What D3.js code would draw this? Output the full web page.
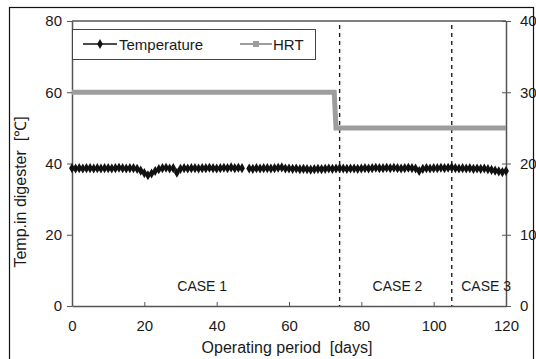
<!DOCTYPE html>
<html>
<head>
<meta charset="utf-8">
<script src="https://cdn.jsdelivr.net/npm/d3@7"></script>
<style>
  body { margin: 0; background: #fff; }
  svg text { font-family: Arial, "Liberation Sans", sans-serif; fill: #1a1a1a; white-space: pre; }
</style>
</head>
<body>
<div id="chart"></div>
<script>
// Temperature in digester, one value per day (0..120), null = no measurement
const tempDays = d3.range(0, 121);
const tempValues = [
  38.7, 38.6, 38.7, 38.6, 38.7, 38.7, 38.6, 38.7, 38.6, 38.7,
  38.7, 38.6, 38.7, 38.8, 38.7, 38.6, 38.7, 38.7, 38.5, 38.0,
  37.3, 36.7, 37.2, 37.9, 38.4, 38.7, 38.8, 38.6, 38.7, 37.4,
  38.5, 38.7, 38.6, 38.7, 38.7, 38.6, 38.7, 38.7, 38.8, 38.7,
  38.6, 38.7, 38.8, 38.7, 38.9, 38.7, 38.8, 38.7, null, 38.6,
  38.5, 38.7, 38.6, 38.7, 38.7, 38.6, 38.7, 38.8, 38.9, 38.6,
  38.6, 38.5, 38.6, 38.4, 38.5, 38.4, 38.3, 38.4, 38.5, 38.4,
  38.5, 38.6, 38.5, 38.6, 38.7, 38.6, 38.5, 38.6, 38.6, 38.5,
  38.6, 38.7, 38.6, 38.7, 38.8, 38.7, 38.7, 38.8, 38.7, 38.8,
  38.7, 38.6, 38.7, 38.8, 38.7, 38.6, 37.9, 38.5, 38.7, 38.6,
  38.7, 38.7, 38.8, 38.7, 38.8, 38.9, 38.7, 38.6, 38.7, 38.6,
  38.7, 38.5, 38.6, 38.5, 38.6, 38.4, 38.2, 38.0, 37.8, 37.6,
  37.9
];

// HRT [days], right axis
const hrtDays = [0, 72.5, 73, 120];
const hrtValues = [30, 30, 25, 25];

// case boundaries and labels
const caseBounds = [74, 105];
const caseLabels = [
  { name: "CASE 1", day: 36 },
  { name: "CASE 2", day: 90 },
  { name: "CASE 3", day: 114.5 }
];

const xTicks = [0, 20, 40, 60, 80, 100, 120];
const yLeftTicks = [0, 20, 40, 60, 80];
const yRightTicks = [0, 10, 20, 30, 40];

const W = 536, H = 359;
const m = { left: 72, right: 506, top: 21, bottom: 306 };

const svg = d3.select("#chart").append("svg")
  .attr("width", W).attr("height", H);

// outer frame
svg.append("rect")
  .attr("x", 9.5).attr("y", 7.5).attr("width", 524).attr("height", 360)
  .attr("fill", "none").attr("stroke", "#111").attr("stroke-width", 1.2);

const x = d3.scaleLinear().domain([0, 120]).range([m.left, m.right]);
const yL = d3.scaleLinear().domain([0, 80]).range([m.bottom, m.top]);
const yR = d3.scaleLinear().domain([0, 40]).range([m.bottom, m.top]);

const axisColor = "#555";

// top frame line
svg.append("line")
  .attr("x1", m.left).attr("x2", m.right).attr("y1", m.top).attr("y2", m.top)
  .attr("stroke", axisColor).attr("stroke-width", 1.5);

// x axis (ticks inside)
const gx = svg.append("g").attr("transform", `translate(0,${m.bottom})`)
  .call(d3.axisBottom(x).tickValues(xTicks).tickSizeInner(-4).tickSizeOuter(0).tickPadding(14));
// left axis (ticks outside)
const gyL = svg.append("g").attr("transform", `translate(${m.left},0)`)
  .call(d3.axisLeft(yL).tickValues(yLeftTicks).tickSizeInner(5).tickSizeOuter(0).tickPadding(5));
// right axis (cross ticks)
const gyR = svg.append("g").attr("transform", `translate(${m.right},0)`)
  .call(d3.axisRight(yR).tickValues(yRightTicks).tickSizeInner(5).tickSizeOuter(0).tickPadding(9));
gyR.selectAll(".tick line").attr("x1", -4);

[gx, gyL, gyR].forEach(g => {
  g.select(".domain").attr("stroke", axisColor).attr("stroke-width", 1.5);
  g.selectAll(".tick line").attr("stroke", axisColor).attr("stroke-width", 1);
  g.selectAll(".tick text").attr("font-size", 15).attr("fill", "#1a1a1a");
});

// case boundary lines
svg.selectAll(".bound").data(caseBounds).enter().append("line")
  .attr("x1", d => x(d)).attr("x2", d => x(d))
  .attr("y1", m.top + 4).attr("y2", m.bottom)
  .attr("stroke", "#222").attr("stroke-width", 1.4)
  .attr("stroke-dasharray", "4,4");

svg.selectAll(".caselbl").data(caseLabels).enter().append("text")
  .attr("x", d => x(d.day)).attr("y", 291)
  .attr("text-anchor", "middle").attr("font-size", 14)
  .text(d => d.name);

// HRT line
const hrtLine = d3.line().x((d, i) => x(hrtDays[i])).y(d => yR(d));
svg.append("path").datum(hrtValues)
  .attr("d", hrtLine)
  .attr("fill", "none").attr("stroke", "#9d9d9d").attr("stroke-width", 5);

// temperature line + markers
const tempLine = d3.line()
  .defined(d => d != null)
  .x((d, i) => x(tempDays[i])).y(d => yL(d));
svg.append("path").datum(tempValues)
  .attr("d", tempLine)
  .attr("fill", "none").attr("stroke", "#111").attr("stroke-width", 2);

const diamond = d3.symbol().type(d3.symbolDiamond).size(30);
svg.selectAll(".tmark").data(tempValues.map((v, i) => ({ v, d: tempDays[i] })).filter(p => p.v != null))
  .enter().append("path")
  .attr("d", diamond)
  .attr("transform", p => `translate(${x(p.d)},${yL(p.v)})`)
  .attr("fill", "#111");

// legend
const lg = svg.append("g");
lg.append("rect").attr("x", 72.5).attr("y", 29.5).attr("width", 243).attr("height", 30)
  .attr("fill", "#fff").attr("stroke", "#444").attr("stroke-width", 1);
lg.append("line").attr("x1", 83).attr("x2", 117).attr("y1", 44).attr("y2", 44)
  .attr("stroke", "#111").attr("stroke-width", 1.5);
lg.append("path").attr("d", d3.symbol().type(d3.symbolDiamond).size(28))
  .attr("transform", "translate(100,44)").attr("fill", "#111");
lg.append("text").attr("x", 119).attr("y", 49.5).attr("font-size", 15).text("Temperature");
lg.append("line").attr("x1", 240).attr("x2", 272).attr("y1", 44).attr("y2", 44)
  .attr("stroke", "#9d9d9d").attr("stroke-width", 2);
lg.append("rect").attr("x", 253).attr("y", 41).attr("width", 6).attr("height", 6)
  .attr("fill", "#9d9d9d");
lg.append("text").attr("x", 273).attr("y", 49.5).attr("font-size", 15).text("HRT");

// axis titles
svg.append("text")
  .attr("x", 287).attr("y", 353)
  .attr("text-anchor", "middle").attr("font-size", 16)
  .text("Operating period  [days]");
svg.append("text")
  .attr("transform", "translate(26,192) rotate(-90)")
  .attr("text-anchor", "middle").attr("font-size", 16)
  .text("Temp.in digester  [℃]");
</script>
</body>
</html>
